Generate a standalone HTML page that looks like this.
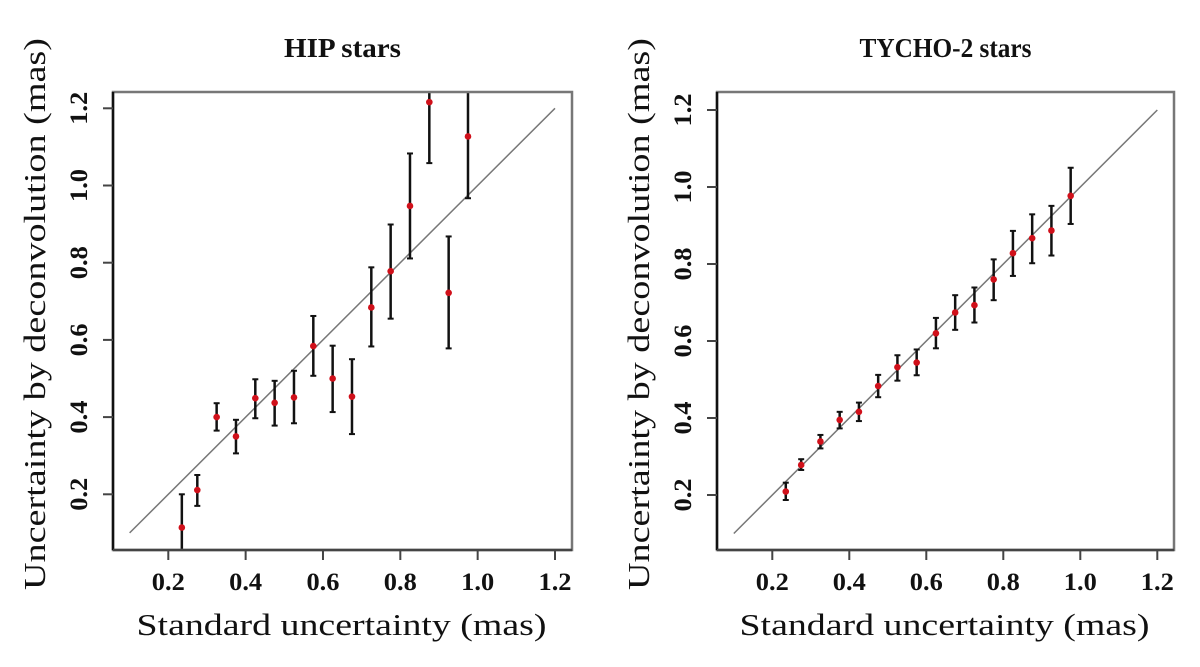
<!DOCTYPE html>
<html><head><meta charset="utf-8"><style>
body{margin:0;background:#fff}
svg{display:block}
text{font-family:"Liberation Serif",serif;fill:#111}
</style></head><body>
<svg id="c" width="1200" height="667"></svg>
<script>
const xs=[0.235,0.275,0.325,0.375,0.425,0.475,0.525,0.575,0.625,0.675,0.725,0.775,0.825,0.875,0.925,0.975];
const hipY=[0.114,0.211,0.40,0.35,0.449,0.437,0.451,0.584,0.50,0.453,0.684,0.778,0.947,1.216,0.722,1.127];
const hipLo=[0.05,0.17,0.365,0.306,0.397,0.378,0.384,0.507,0.413,0.356,0.583,0.655,0.811,1.058,0.578,0.967];
const hipHi=[0.2,0.25,0.436,0.393,0.498,0.494,0.52,0.662,0.585,0.55,0.788,0.899,1.083,1.3,0.868,1.3];
const tycY=[0.209,0.278,0.339,0.395,0.416,0.483,0.532,0.544,0.62,0.674,0.693,0.76,0.828,0.867,0.887,0.977];
const tycLo=[0.187,0.265,0.321,0.373,0.392,0.454,0.497,0.511,0.581,0.629,0.648,0.706,0.769,0.802,0.822,0.904];
const tycHi=[0.232,0.293,0.356,0.416,0.44,0.512,0.563,0.578,0.66,0.719,0.739,0.812,0.886,0.929,0.951,1.05];
const ticks=[0.2,0.4,0.6,0.8,1.0,1.2];
const tickLabels=["0.2","0.4","0.6","0.8","1.0","1.2"];
const NS="http://www.w3.org/2000/svg";
const svg=document.getElementById('c');
function mk(tag,attrs,parent,txt){const e=document.createElementNS(NS,tag);for(const k in attrs)e.setAttribute(k,attrs[k]);if(txt!==undefined)e.textContent=txt;(parent||svg).appendChild(e);return e;}
function panel(o){
  const g=mk('g',{});
  
  
  const X=v=>o.x0+(v-0.2)*o.kx, Y=v=>o.y0-(v-0.2)*o.ky;
  const L=o.left,R=o.right,T=92,B=550;
  const cid='clip'+o.name;
  const cp=mk('clipPath',{id:cid},g);mk('rect',{x:L,y:T,width:R-L,height:B-T},cp);
  const t=mk('text',{x:(L+R)/2,y:57,'text-anchor':'middle','font-size':27,'font-weight':'bold',textLength:o.titleLen,lengthAdjust:'spacingAndGlyphs'},g,o.title);
  
  const ref=mk('line',{x1:X(0.1),y1:Y(0.1),x2:X(1.2),y2:Y(1.2),stroke:'#777','stroke-width':1.5},g);
  
  const pg=mk('g',{'clip-path':`url(#${cid})`},g);
  for(let i=0;i<xs.length;i++){
    const x=X(xs[i]);
    const b=mk('g',{},pg);
    
    mk('line',{x1:x,x2:x,y1:Y(o.lo[i]),y2:Y(o.hi[i]),stroke:'#111','stroke-width':2.5},b);
    mk('line',{x1:x-3,x2:x+3,y1:Y(o.lo[i]),y2:Y(o.lo[i]),stroke:'#111','stroke-width':2},b);
    mk('line',{x1:x-3,x2:x+3,y1:Y(o.hi[i]),y2:Y(o.hi[i]),stroke:'#111','stroke-width':2},b);
    const p=mk('circle',{cx:x,cy:Y(o.y[i]),r:3.3,fill:'#d0101a'},pg);
    
  }
  const box=mk('rect',{x:L,y:T,width:R-L,height:B-T,fill:'none',stroke:'#777','stroke-width':2.5},g);
  
  mk('line',{x1:L,y1:T,x2:L,y2:B,stroke:'#111','stroke-width':2.5},g);
  mk('line',{x1:L,y1:B,x2:R,y2:B,stroke:'#444','stroke-width':2.5},g);
  ticks.forEach((v,i)=>{
    mk('line',{x1:X(v),x2:X(v),y1:B,y2:B+10,stroke:'#444','stroke-width':2},g);
    const tx=mk('text',{x:X(v),y:590,'text-anchor':'middle','font-size':25,'font-weight':'bold',textLength:33,lengthAdjust:'spacingAndGlyphs'},g,tickLabels[i]);
    
    mk('line',{x1:L,x2:L-10,y1:Y(v),y2:Y(v),stroke:'#444','stroke-width':2},g);
    const ty=mk('text',{x:0,y:0,'text-anchor':'middle','font-size':25,'font-weight':'bold',textLength:33,lengthAdjust:'spacingAndGlyphs',transform:`translate(${L-26},${Y(v)}) rotate(-90)`},g,tickLabels[i]);
    
  });
  const xt=mk('text',{x:(L+R)/2-1,y:635,'text-anchor':'middle','font-size':31,textLength:410,lengthAdjust:'spacingAndGlyphs'},g,'Standard uncertainty (mas)');
  
  const yt=mk('text',{x:0,y:0,'text-anchor':'middle','font-size':31,textLength:552,lengthAdjust:'spacingAndGlyphs',transform:`translate(${L-68},${314}) rotate(-90)`},g,'Uncertainty by deconvolution (mas)');
  
}
panel({name:'hip-panel',title:'HIP stars',titleLen:117,left:113,right:572,x0:168.3,kx:386.7,y0:494.3,ky:386,y:hipY,lo:hipLo,hi:hipHi});
panel({name:'tycho-panel',title:'TYCHO-2 stars',titleLen:172,left:717,right:1174,x0:772.3,kx:385,y0:495,ky:385,y:tycY,lo:tycLo,hi:tycHi});
</script>
</body></html>
